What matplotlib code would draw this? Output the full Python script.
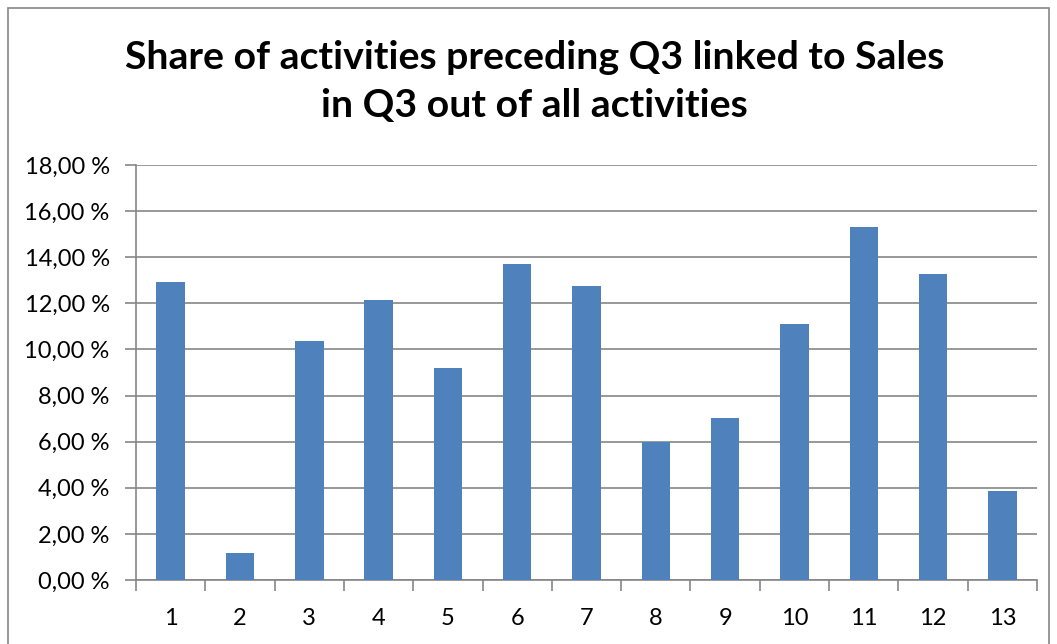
import matplotlib
matplotlib.use("Agg")
import matplotlib.pyplot as plt
from matplotlib.patches import Rectangle
from matplotlib.ticker import FuncFormatter, MultipleLocator
import numpy as np

plt.rcParams["font.family"] = ["Lato", "DejaVu Sans"]

CATEGORIES = [str(i) for i in range(1, 14)]
SHARE_PCT = [12.93, 1.17, 10.37, 12.15, 9.20, 13.71, 12.75, 5.99, 7.03, 11.11, 15.31, 13.28, 3.86]

BAR = "#4F81BD"
GRID = "#868686"

fig = plt.figure(figsize=(10.57, 6.44), dpi=100)
ax = fig.add_axes([0.1287, 0.0994, 0.8524, 0.6444])

x = np.arange(len(CATEGORIES))
ax.bar(x, SHARE_PCT, width=0.41, color=BAR, zorder=3)

ax.set_xlim(-0.5, len(CATEGORIES) - 0.5)
ax.set_ylim(0, 18)
ax.yaxis.set_major_locator(MultipleLocator(2))
ax.yaxis.set_major_formatter(FuncFormatter(lambda v, _: f"{v:.2f}".replace(".", ",") + " %"))
ax.grid(axis="y", color=GRID, lw=1.2, zorder=0)

# category labels centred, tick marks on the category boundaries
ax.set_xticks(x)
ax.set_xticklabels(CATEGORIES)
ax.set_xticks(np.arange(len(CATEGORIES) + 1) - 0.5, minor=True)
ax.tick_params(axis="x", which="major", length=0, pad=20, labelsize=17)
ax.tick_params(axis="x", which="minor", length=8, width=1.2, color=GRID, direction="out")
ax.tick_params(axis="y", length=8, width=1.2, color=GRID, labelsize=17, pad=11)

for side in ("top", "right"):
    ax.spines[side].set_visible(False)
for side in ("left", "bottom"):
    ax.spines[side].set_color(GRID)
    ax.spines[side].set_linewidth(1.2)

fig.text(0.506, 0.873, "Share of activities preceding Q3 linked to Sales\nin Q3 out of all activities",
         ha="center", va="center", fontsize=28.3, fontweight="bold", linespacing=1.45)

# chart frame
fig.patches.append(Rectangle((8 / 1057, -0.05), 1041 / 1057, 1.05 - 8 / 644,
                             transform=fig.transFigure, fill=False, ec="#868686", lw=1.2))

fig.savefig("out.png", dpi=100)
